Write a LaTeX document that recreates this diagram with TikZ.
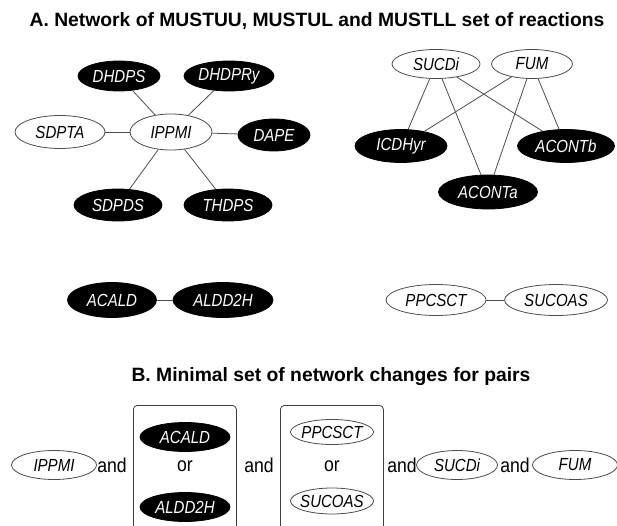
\documentclass[tikz,border=0pt]{standalone}
\usepackage{fontspec}
\setmainfont{Liberation Sans}
\newfontfamily\nodefont[FakeStretch=0.86]{Liberation Sans}
\newfontfamily\conjfont[FakeStretch=0.88]{Liberation Sans}
\usetikzlibrary{shapes.geometric}
\newcommand\zw[1]{\makebox[0pt]{#1}}
\begin{document}
\begin{tikzpicture}[x=1pt,y=-1pt,
  reac/.style={ellipse, inner sep=0pt, line width=0.8pt,
    font=\nodefont\fontsize{17.5}{20}\selectfont\itshape},
  wn/.style={reac, draw=black!70, fill=white, text=black},
  bn/.style={reac, draw=black, fill=black, text=white},
  sz/.style 2 args={minimum width=#1, minimum height=#2},
  link/.style={draw=black!70, line width=0.8pt},
  ttl/.style={font=\fontsize{19.3}{22}\selectfont\bfseries},
  conj/.style={font=\conjfont\fontsize{20}{22}\selectfont, inner sep=0pt},
  grp/.style={draw=black!75, line width=0.8pt, rounded corners=4pt, anchor=north west}
]
\useasboundingbox (0,0) rectangle (617,526);
\clip (0,0) rectangle (617,526);

% titles
\node[ttl] (ta) at (317,21) {A. Network of MUSTUU, MUSTUL and MUSTLL set of reactions};
\node[ttl] (tb) at (331,377) {B. Minimal set of network changes for pairs};

% top-left star
\node[wn, sz={82}{36}] (ippmi) at (171,132) {\zw{IPPMI}};
\node[bn, sz={82}{30}] (dhdps) at (119,76) {\zw{DHDPS}};
\node[bn, sz={90}{30}] (dhdpry) at (229,76) {\zw{DHDPRy}};
\node[wn, sz={90}{33}] (sdpta) at (60,132) {\zw{SDPTA}};
\node[bn, sz={72}{32}] (dape) at (274,135) {\zw{DAPE}};
\node[bn, sz={88}{32}] (sdpds) at (118,205) {\zw{SDPDS}};
\node[bn, sz={88}{32}] (thdps) at (228,205) {\zw{THDPS}};
\foreach \n in {dhdps,dhdpry,sdpta,dape,sdpds,thdps}
  \draw[link] (ippmi) -- (\n);

% top-right graph
\node[wn, sz={88}{29}] (sucdi) at (436,64) {\zw{SUCDi}};
\node[wn, sz={81}{29}] (fum) at (532,64) {\zw{FUM}};
\node[bn, sz={92}{33}] (icdhyr) at (401,146) {\zw{ICDHyr}};
\node[bn, sz={97}{33}] (acontb) at (566,146) {\zw{ACONTb}};
\node[bn, sz={99}{34}] (aconta) at (488,192) {\zw{ACONTa}};
\foreach \a in {sucdi,fum}
  \foreach \b in {icdhyr,aconta,acontb}
    \draw[link] (\a) -- (\b);

% pairs
\node[bn, sz={89}{35}] (acald) at (112,300) {\zw{ACALD}};
\node[bn, sz={100}{35}] (aldd2h) at (223,300) {\zw{ALDD2H}};
\draw[link] (acald) -- (aldd2h);
\node[wn, sz={100}{31}] (ppcsct) at (436,300) {\zw{PPCSCT}};
\node[wn, sz={103}{31}] (sucoas) at (556,300) {\zw{SUCOAS}};
\draw[link] (ppcsct) -- (sucoas);

% part B
\node[grp, minimum width=103, minimum height=150] (box1) at (133,405) {};
\node[grp, minimum width=103, minimum height=150] (box2) at (280,405) {};
\node[wn, sz={85}{29}] (bippmi) at (54,465) {\zw{IPPMI}};
\node[conj] (and1) at (112,465) {and};
\node[bn, sz={90}{29}] (bacald) at (185,437) {\zw{ACALD}};
\node[conj] (or1) at (185,466) {or};
\node[bn, sz={90}{29}] (baldd2h) at (185,507) {\zw{ALDD2H}};
\node[conj] (and2) at (259,465) {and};
\node[wn, sz={83}{25}] (bppcsct) at (332,432) {\zw{PPCSCT}};
\node[conj] (or2) at (332,466) {or};
\node[wn, sz={83}{26}] (bsucoas) at (332,501) {\zw{SUCOAS}};
\node[conj] (and3) at (402,465) {and};
\node[wn, sz={81}{29}] (bsucdi) at (457,465) {\zw{SUCDi}};
\node[conj] (and4) at (515,465) {and};
\node[wn, sz={85}{29}] (bfum) at (575,465) {\zw{FUM}};
\end{tikzpicture}
\end{document}
